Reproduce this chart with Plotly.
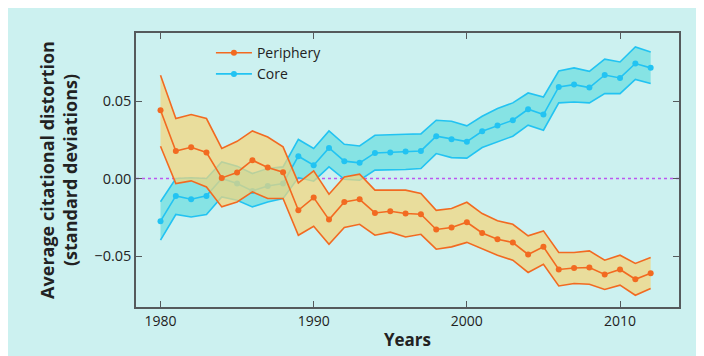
import plotly.graph_objects as go

years = list(range(1980, 2013))

periphery_mean = [0.044, 0.0178, 0.0202, 0.0168, 0.0004, 0.0039, 0.0118, 0.0071, 0.0041, -0.0205,
                  -0.0123, -0.0265, -0.0151, -0.0134, -0.0222, -0.0211, -0.0226, -0.0230, -0.0329, -0.0316,
                  -0.0282, -0.0351, -0.0392, -0.0413, -0.0490, -0.0441, -0.0587, -0.0577, -0.0574, -0.0619,
                  -0.0587, -0.0650, -0.0611]
periphery_upper = [0.0666, 0.0387, 0.0413, 0.0387, 0.0194, 0.0240, 0.0307, 0.0268, 0.0204, -0.0028,
                   0.0049, -0.0101, 0.0010, 0.0028, -0.0075, -0.0075, -0.0075, -0.0097, -0.0205, -0.0194,
                   -0.0153, -0.0226, -0.0273, -0.0295, -0.0370, -0.0338, -0.0477, -0.0477, -0.0467, -0.0527,
                   -0.0495, -0.0548, -0.0510]
periphery_lower = [0.0208, -0.0032, -0.0015, -0.0054, -0.0183, -0.0151, -0.0086, -0.0129, -0.0129, -0.0366,
                   -0.0308, -0.0424, -0.0316, -0.0295, -0.0366, -0.0346, -0.0377, -0.0360, -0.0456, -0.0441,
                   -0.0412, -0.0456, -0.0495, -0.0527, -0.0606, -0.0553, -0.0693, -0.0677, -0.0682, -0.0716,
                   -0.0688, -0.0753, -0.0710]

core_mean = [-0.0275, -0.0112, -0.0134, -0.0112, 0.0000, -0.0032, -0.0080, -0.0048, -0.0032, 0.0144,
             0.0086, 0.0197, 0.0112, 0.0101, 0.0165, 0.0168, 0.0174, 0.0178, 0.0273, 0.0254,
             0.0238, 0.0305, 0.0342, 0.0376, 0.0447, 0.0413, 0.0591, 0.0606, 0.0587, 0.0668,
             0.0649, 0.0742, 0.0714]
core_upper = [-0.0150, 0.0000, 0.0005, 0.0000, 0.0107, 0.0080, 0.0032, 0.0065, 0.0075, 0.0252,
              0.0194, 0.0307, 0.0221, 0.0210, 0.0279, 0.0284, 0.0286, 0.0288, 0.0376, 0.0370,
              0.0340, 0.0402, 0.0452, 0.0488, 0.0552, 0.0526, 0.0694, 0.0714, 0.0692, 0.0770,
              0.0752, 0.0849, 0.0817]
core_lower = [-0.0398, -0.0232, -0.0248, -0.0232, -0.0119, -0.0140, -0.0183, -0.0151, -0.0129, 0.0006,
              -0.0017, 0.0075, -0.0005, -0.0011, 0.0054, 0.0056, 0.0058, 0.0065, 0.0161, 0.0135,
              0.0132, 0.0200, 0.0236, 0.0273, 0.0344, 0.0312, 0.0488, 0.0494, 0.0488, 0.0548,
              0.0548, 0.0639, 0.0613]

y_ticks = [-0.05, 0.0, 0.05]
y_tick_labels = ["\u22120.05", "0.00", "0.05"]
x_ticks = [1980, 1990, 2000, 2010]

ORANGE = "#F26A21"
CYAN = "#22C3F2"
BG = "#CCF1F0"
AXIS = "#555A5C"

fig = go.Figure()

# Core band
fig.add_trace(go.Scatter(x=years, y=core_upper, mode="lines", line=dict(color=CYAN, width=1.6),
                         showlegend=False, hoverinfo="skip"))
fig.add_trace(go.Scatter(x=years, y=core_lower, mode="lines", line=dict(color=CYAN, width=1.6),
                         fill="tonexty", fillcolor="#86E3E4", showlegend=False, hoverinfo="skip"))
fig.add_trace(go.Scatter(x=years, y=core_mean, mode="lines+markers", name="Core",
                         line=dict(color=CYAN, width=1.6), marker=dict(color=CYAN, size=6)))

# Periphery band (semi-transparent fill over core)
fig.add_trace(go.Scatter(x=years, y=periphery_upper, mode="lines", line=dict(color=ORANGE, width=1.6),
                         showlegend=False, hoverinfo="skip"))
fig.add_trace(go.Scatter(x=years, y=periphery_lower, mode="lines", line=dict(color=ORANGE, width=1.6),
                         fill="tonexty", fillcolor="rgba(244,214,124,0.72)", showlegend=False,
                         hoverinfo="skip"))
fig.add_trace(go.Scatter(x=years, y=periphery_mean, mode="lines+markers", name="Periphery",
                         line=dict(color=ORANGE, width=1.6), marker=dict(color=ORANGE, size=6)))

# zero line
fig.add_shape(type="line", xref="paper", x0=0, x1=1, yref="y", y0=0, y1=0,
              line=dict(color="#BC58F0", width=1.5, dash="dot"), layer="below")

fig.update_layout(
    width=704, height=356,
    margin=dict(l=128, r=33, t=25, b=57),
    paper_bgcolor=BG, plot_bgcolor=BG,
    font=dict(family="Open Sans, Roboto, sans-serif", color="#222222", size=13),
    legend=dict(x=0.138, y=0.985, xanchor="left", yanchor="top", bgcolor="rgba(0,0,0,0)",
                traceorder="reversed", font=dict(size=14), itemwidth=36, tracegroupgap=0),
    xaxis=dict(range=[1978.4, 2013.85], tickvals=x_ticks, ticks="inside", ticklen=6, tickcolor=AXIS,
               showline=True, linecolor=AXIS, linewidth=1.5, mirror="ticks", showgrid=False,
               zeroline=False, tickfont=dict(size=14),
               title=dict(text="<b>Years</b>", font=dict(size=17), standoff=6)),
    yaxis=dict(range=[-0.0829, 0.0939], tickvals=y_ticks, ticktext=y_tick_labels, ticks="inside",
               ticklen=6, tickcolor=AXIS, showline=True, linecolor=AXIS, linewidth=1.5, mirror="ticks",
               showgrid=False, zeroline=False, tickfont=dict(size=14.5),
               title=dict(text="<b>Average citational distortion<br>(standard deviations)</b>",
                          font=dict(size=18), standoff=12)),
    showlegend=True,
)

fig.write_html("out.html")
